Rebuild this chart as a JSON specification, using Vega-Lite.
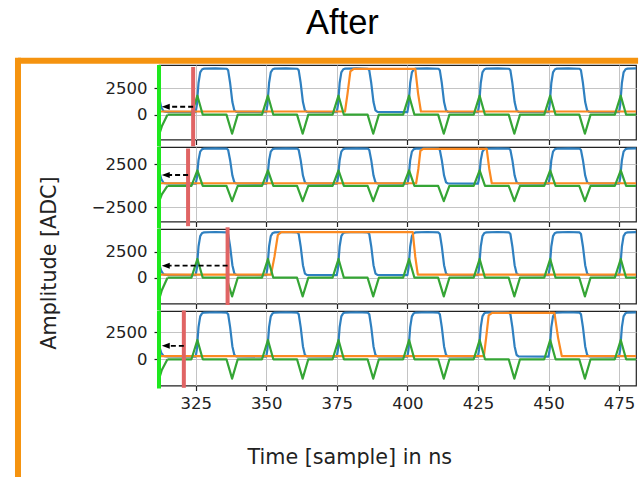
{
"$schema": "https://vega.github.io/schema/vega-lite/v6.json",
"background": "white",
"padding": {"left": 14, "top": 5, "right": 0, "bottom": 0},
"title": {"text": "After", "anchor": "start", "frame": "group", "dx": 147, "offset": 13, "font": "Liberation Sans", "fontSize": 34.5, "fontWeight": "normal", "color": "#000000"},
"datasets": {
"blue": [
{"x":314.5,"y":270},
{"x":325,"y":250},{"x":325.4,"y":900},{"x":326,"y":3000},{"x":326.6,"y":4000},{"x":327.3,"y":4300},{"x":328,"y":4360},{"x":332,"y":4390},{"x":336,"y":4350},{"x":336.5,"y":4200},{"x":337.2,"y":3000},{"x":338,"y":1200},{"x":338.7,"y":400},{"x":339.4,"y":270},
{"x":350,"y":250},{"x":350.4,"y":900},{"x":351,"y":3000},{"x":351.6,"y":4000},{"x":352.3,"y":4300},{"x":353,"y":4360},{"x":357,"y":4390},{"x":361,"y":4350},{"x":361.5,"y":4200},{"x":362.2,"y":3000},{"x":363,"y":1200},{"x":363.7,"y":400},{"x":364.4,"y":270},
{"x":375,"y":250},{"x":375.4,"y":900},{"x":376,"y":3000},{"x":376.6,"y":4000},{"x":377.3,"y":4300},{"x":378,"y":4360},{"x":382,"y":4390},{"x":386,"y":4350},{"x":386.5,"y":4200},{"x":387.2,"y":3000},{"x":388,"y":1200},{"x":388.7,"y":400},{"x":389.4,"y":270},
{"x":400,"y":250},{"x":400.4,"y":900},{"x":401,"y":3000},{"x":401.6,"y":4000},{"x":402.3,"y":4300},{"x":403,"y":4360},{"x":407,"y":4390},{"x":411,"y":4350},{"x":411.5,"y":4200},{"x":412.2,"y":3000},{"x":413,"y":1200},{"x":413.7,"y":400},{"x":414.4,"y":270},
{"x":425,"y":250},{"x":425.4,"y":900},{"x":426,"y":3000},{"x":426.6,"y":4000},{"x":427.3,"y":4300},{"x":428,"y":4360},{"x":432,"y":4390},{"x":436,"y":4350},{"x":436.5,"y":4200},{"x":437.2,"y":3000},{"x":438,"y":1200},{"x":438.7,"y":400},{"x":439.4,"y":270},
{"x":450,"y":250},{"x":450.4,"y":900},{"x":451,"y":3000},{"x":451.6,"y":4000},{"x":452.3,"y":4300},{"x":453,"y":4360},{"x":457,"y":4390},{"x":461,"y":4350},{"x":461.5,"y":4200},{"x":462.2,"y":3000},{"x":463,"y":1200},{"x":463.7,"y":400},{"x":464.4,"y":270},
{"x":475,"y":250},{"x":475.4,"y":900},{"x":476,"y":3000},{"x":476.6,"y":4000},{"x":477.3,"y":4300},{"x":478,"y":4360},{"x":481,"y":4380}
],
"green": [
{"x":315,"y":0},
{"x":323.5,"y":0},{"x":325.6,"y":1800},{"x":327.5,"y":0},{"x":335.9,"y":0},{"x":337.9,"y":-1800},{"x":339.9,"y":0},
{"x":348.5,"y":0},{"x":350.6,"y":1800},{"x":352.5,"y":0},{"x":360.9,"y":0},{"x":362.9,"y":-1800},{"x":364.9,"y":0},
{"x":373.5,"y":0},{"x":375.6,"y":1800},{"x":377.5,"y":0},{"x":385.9,"y":0},{"x":387.9,"y":-1800},{"x":389.9,"y":0},
{"x":398.5,"y":0},{"x":400.6,"y":1800},{"x":402.5,"y":0},{"x":410.9,"y":0},{"x":412.9,"y":-1800},{"x":414.9,"y":0},
{"x":423.5,"y":0},{"x":425.6,"y":1800},{"x":427.5,"y":0},{"x":435.9,"y":0},{"x":437.9,"y":-1800},{"x":439.9,"y":0},
{"x":448.5,"y":0},{"x":450.6,"y":1800},{"x":452.5,"y":0},{"x":460.9,"y":0},{"x":462.9,"y":-1800},{"x":464.9,"y":0},
{"x":473.5,"y":0},{"x":475.6,"y":1800},{"x":477.5,"y":0},{"x":481,"y":0}
],
"start": [
{"p":1,"s":"b","x":312,"y":1650},{"p":1,"s":"b","x":312.8,"y":700},{"p":1,"s":"b","x":313.6,"y":330},{"p":1,"s":"b","x":314.5,"y":270},
{"p":2,"s":"b","x":312,"y":1850},{"p":2,"s":"b","x":312.8,"y":800},{"p":2,"s":"b","x":313.6,"y":350},{"p":2,"s":"b","x":314.5,"y":270},
{"p":3,"s":"b","x":312,"y":1400},{"p":3,"s":"b","x":312.8,"y":650},{"p":3,"s":"b","x":313.6,"y":320},{"p":3,"s":"b","x":314.5,"y":270},
{"p":4,"s":"b","x":312,"y":1300},{"p":4,"s":"b","x":312.8,"y":600},{"p":4,"s":"b","x":313.6,"y":320},{"p":4,"s":"b","x":314.5,"y":270},
{"p":1,"s":"g","x":312,"y":-1950},{"p":1,"s":"g","x":313,"y":-1100},{"p":1,"s":"g","x":315,"y":0},
{"p":2,"s":"g","x":312,"y":-1870},{"p":2,"s":"g","x":313,"y":-1000},{"p":2,"s":"g","x":315,"y":0},
{"p":3,"s":"g","x":312,"y":-2140},{"p":3,"s":"g","x":313,"y":-1200},{"p":3,"s":"g","x":315,"y":0},
{"p":4,"s":"g","x":312,"y":-1850},{"p":4,"s":"g","x":313,"y":-1000},{"p":4,"s":"g","x":315,"y":0}
],
"orange": [
{"p":1,"x":312,"y":300},{"p":1,"x":377.9,"y":300},{"p":1,"x":378.8,"y":2000},{"p":1,"x":379.8,"y":4100},{"p":1,"x":381,"y":4330},{"p":1,"x":402.8,"y":4330},{"p":1,"x":403.8,"y":2000},{"p":1,"x":404.8,"y":300},{"p":1,"x":481,"y":300},
{"p":2,"x":312,"y":300},{"p":2,"x":403.1,"y":300},{"p":2,"x":403.9,"y":2000},{"p":2,"x":404.6,"y":4100},{"p":2,"x":405.6,"y":4330},{"p":2,"x":428.1,"y":4330},{"p":2,"x":429,"y":2000},{"p":2,"x":429.9,"y":300},{"p":2,"x":481,"y":300},
{"p":3,"x":312,"y":300},{"p":3,"x":351.7,"y":300},{"p":3,"x":352.9,"y":2000},{"p":3,"x":354.1,"y":4100},{"p":3,"x":355.3,"y":4380},{"p":3,"x":401.9,"y":4380},{"p":3,"x":402.8,"y":2000},{"p":3,"x":403.7,"y":300},{"p":3,"x":481,"y":300},
{"p":4,"x":312,"y":300},{"p":4,"x":427.1,"y":300},{"p":4,"x":427.9,"y":2000},{"p":4,"x":428.8,"y":4100},{"p":4,"x":430,"y":4330},{"p":4,"x":452.1,"y":4330},{"p":4,"x":453.4,"y":2000},{"p":4,"x":454.7,"y":300},{"p":4,"x":481,"y":300}
],
"ev": [
{"p":1,"red":324.1,"rtop":4518,"rbot":-2993,"ay":750,"ahx":314.4,"gx":312,"gtop":4705,"gbot":-3013},
{"p":2,"red":322.3,"rtop":4367,"rbot":-4730,"ay":1265,"ahx":314.4,"gx":312,"gtop":4545,"gbot":-5000},
{"p":3,"red":336.3,"rtop":4845,"rbot":-2625,"ay":1154,"ahx":314.4,"gx":312,"gtop":4680,"gbot":-3153},
{"p":4,"red":320.8,"rtop":4553,"rbot":-2659,"ay":1260,"ahx":314.4,"gx":312,"gtop":4505,"gbot":-2725}
],
"frame": [
{"x":262.04,"x2":262.04,"y":28126,"y2":-11401},
{"x":262.04,"x2":481.74,"y":27846,"y2":27846}
]
},
"spacing": 7,
"bounds": "flush",
"vconcat": [
{"width":477,"height":74.5,"layer":[
{"data":{"name":"blue"},"mark":{"type":"line","color":"#2f80c0","strokeWidth":2.2,"strokeJoin":"round"},
 "encoding":{"x":{"field":"x","type":"quantitative","scale":{"domain":[312,481],"nice":false,"zero":false},"axis":{"values":[325,350,375,400,425,450,475],"labels":false,"title":null,"grid":true}},
 "y":{"field":"y","type":"quantitative","scale":{"domain":[-2350,4705],"nice":false,"zero":false},"axis":{"values":[0,2500],"format":"d","title":null,"grid":true,"labelPadding":7}}}},
{"data":{"name":"start"},"transform":[{"filter":"datum.p==1 && datum.s=='b'"}],"mark":{"type":"line","color":"#2f80c0","strokeWidth":2.2,"strokeJoin":"round"},"encoding":{"x":{"field":"x","type":"quantitative"},"y":{"field":"y","type":"quantitative"}}},
{"data":{"name":"orange"},"transform":[{"filter":"datum.p==1"}],"mark":{"type":"line","color":"#fb8a22","strokeWidth":2.2,"strokeJoin":"round"},"encoding":{"x":{"field":"x","type":"quantitative"},"y":{"field":"y","type":"quantitative"}}},
{"data":{"name":"green"},"mark":{"type":"line","color":"#35a535","strokeWidth":2.2,"strokeJoin":"round"},"encoding":{"x":{"field":"x","type":"quantitative"},"y":{"field":"y","type":"quantitative"}}},
{"data":{"name":"start"},"transform":[{"filter":"datum.p==1 && datum.s=='g'"}],"mark":{"type":"line","color":"#35a535","strokeWidth":2.2,"strokeJoin":"round"},"encoding":{"x":{"field":"x","type":"quantitative"},"y":{"field":"y","type":"quantitative"}}},
{"data":{"name":"ev"},"transform":[{"filter":"datum.p==1"}],"mark":{"type":"rule","color":"#e06464","strokeWidth":4},"encoding":{"x":{"field":"red","type":"quantitative"},"y":{"field":"rtop","type":"quantitative"},"y2":{"field":"rbot"}}},
{"data":{"name":"ev"},"transform":[{"filter":"datum.p==1"}],"mark":{"type":"rule","color":"#1ee81e","strokeWidth":4},"encoding":{"x":{"field":"gx","type":"quantitative"},"y":{"field":"gtop","type":"quantitative"},"y2":{"field":"gbot"}}},
{"data":{"name":"ev"},"transform":[{"filter":"datum.p==1"}],"mark":{"type":"rule","color":"#000000","strokeWidth":1.8,"strokeDash":[5,3]},"encoding":{"x":{"field":"red","type":"quantitative"},"x2":{"field":"ahx"},"y":{"field":"ay","type":"quantitative"}}},
{"data":{"name":"ev"},"transform":[{"filter":"datum.p==1"}],"mark":{"type":"point","shape":"M -1 0 L 1 -0.75 L 1 0.75 Z","size":64,"filled":true,"color":"#000000","opacity":1},"encoding":{"x":{"field":"ahx","type":"quantitative"},"y":{"field":"ay","type":"quantitative"}}}
]},
{"width":477,"height":74.5,"layer":[
{"data":{"name":"blue"},"mark":{"type":"line","color":"#2f80c0","strokeWidth":2.2,"strokeJoin":"round"},
 "encoding":{"x":{"field":"x","type":"quantitative","scale":{"domain":[312,481],"nice":false,"zero":false},"axis":{"values":[325,350,375,400,425,450,475],"labels":false,"title":null,"grid":true}},
 "y":{"field":"y","type":"quantitative","scale":{"domain":[-4180,4545],"nice":false,"zero":false},"axis":{"values":[-2500,0,2500],"format":"d","title":null,"grid":true,"labelPadding":7}}}},
{"data":{"name":"start"},"transform":[{"filter":"datum.p==2 && datum.s=='b'"}],"mark":{"type":"line","color":"#2f80c0","strokeWidth":2.2,"strokeJoin":"round"},"encoding":{"x":{"field":"x","type":"quantitative"},"y":{"field":"y","type":"quantitative"}}},
{"data":{"name":"orange"},"transform":[{"filter":"datum.p==2"}],"mark":{"type":"line","color":"#fb8a22","strokeWidth":2.2,"strokeJoin":"round"},"encoding":{"x":{"field":"x","type":"quantitative"},"y":{"field":"y","type":"quantitative"}}},
{"data":{"name":"green"},"mark":{"type":"line","color":"#35a535","strokeWidth":2.2,"strokeJoin":"round"},"encoding":{"x":{"field":"x","type":"quantitative"},"y":{"field":"y","type":"quantitative"}}},
{"data":{"name":"start"},"transform":[{"filter":"datum.p==2 && datum.s=='g'"}],"mark":{"type":"line","color":"#35a535","strokeWidth":2.2,"strokeJoin":"round"},"encoding":{"x":{"field":"x","type":"quantitative"},"y":{"field":"y","type":"quantitative"}}},
{"data":{"name":"ev"},"transform":[{"filter":"datum.p==2"}],"mark":{"type":"rule","color":"#e06464","strokeWidth":4},"encoding":{"x":{"field":"red","type":"quantitative"},"y":{"field":"rtop","type":"quantitative"},"y2":{"field":"rbot"}}},
{"data":{"name":"ev"},"transform":[{"filter":"datum.p==2"}],"mark":{"type":"rule","color":"#1ee81e","strokeWidth":4},"encoding":{"x":{"field":"gx","type":"quantitative"},"y":{"field":"gtop","type":"quantitative"},"y2":{"field":"gbot"}}},
{"data":{"name":"ev"},"transform":[{"filter":"datum.p==2"}],"mark":{"type":"rule","color":"#000000","strokeWidth":1.8,"strokeDash":[5,3]},"encoding":{"x":{"field":"red","type":"quantitative"},"x2":{"field":"ahx"},"y":{"field":"ay","type":"quantitative"}}},
{"data":{"name":"ev"},"transform":[{"filter":"datum.p==2"}],"mark":{"type":"point","shape":"M -1 0 L 1 -0.75 L 1 0.75 Z","size":64,"filled":true,"color":"#000000","opacity":1},"encoding":{"x":{"field":"ahx","type":"quantitative"},"y":{"field":"ay","type":"quantitative"}}}
]},
{"width":477,"height":74.5,"layer":[
{"data":{"name":"blue"},"mark":{"type":"line","color":"#2f80c0","strokeWidth":2.2,"strokeJoin":"round"},
 "encoding":{"x":{"field":"x","type":"quantitative","scale":{"domain":[312,481],"nice":false,"zero":false},"axis":{"values":[325,350,375,400,425,450,475],"labels":false,"title":null,"grid":true}},
 "y":{"field":"y","type":"quantitative","scale":{"domain":[-2480,4680],"nice":false,"zero":false},"axis":{"values":[0,2500],"format":"d","grid":true,"labelPadding":7,"title":"Amplitude [ADC]","titleX":-110,"titleY":33.5,"titleAngle":270,"titleAlign":"center","titleBaseline":"middle"}}}},
{"data":{"name":"start"},"transform":[{"filter":"datum.p==3 && datum.s=='b'"}],"mark":{"type":"line","color":"#2f80c0","strokeWidth":2.2,"strokeJoin":"round"},"encoding":{"x":{"field":"x","type":"quantitative"},"y":{"field":"y","type":"quantitative"}}},
{"data":{"name":"orange"},"transform":[{"filter":"datum.p==3"}],"mark":{"type":"line","color":"#fb8a22","strokeWidth":2.2,"strokeJoin":"round"},"encoding":{"x":{"field":"x","type":"quantitative"},"y":{"field":"y","type":"quantitative"}}},
{"data":{"name":"green"},"mark":{"type":"line","color":"#35a535","strokeWidth":2.2,"strokeJoin":"round"},"encoding":{"x":{"field":"x","type":"quantitative"},"y":{"field":"y","type":"quantitative"}}},
{"data":{"name":"start"},"transform":[{"filter":"datum.p==3 && datum.s=='g'"}],"mark":{"type":"line","color":"#35a535","strokeWidth":2.2,"strokeJoin":"round"},"encoding":{"x":{"field":"x","type":"quantitative"},"y":{"field":"y","type":"quantitative"}}},
{"data":{"name":"ev"},"transform":[{"filter":"datum.p==3"}],"mark":{"type":"rule","color":"#e06464","strokeWidth":4},"encoding":{"x":{"field":"red","type":"quantitative"},"y":{"field":"rtop","type":"quantitative"},"y2":{"field":"rbot"}}},
{"data":{"name":"ev"},"transform":[{"filter":"datum.p==3"}],"mark":{"type":"rule","color":"#1ee81e","strokeWidth":4},"encoding":{"x":{"field":"gx","type":"quantitative"},"y":{"field":"gtop","type":"quantitative"},"y2":{"field":"gbot"}}},
{"data":{"name":"ev"},"transform":[{"filter":"datum.p==3"}],"mark":{"type":"rule","color":"#000000","strokeWidth":1.8,"strokeDash":[5,3]},"encoding":{"x":{"field":"red","type":"quantitative"},"x2":{"field":"ahx"},"y":{"field":"ay","type":"quantitative"}}},
{"data":{"name":"ev"},"transform":[{"filter":"datum.p==3"}],"mark":{"type":"point","shape":"M -1 0 L 1 -0.75 L 1 0.75 Z","size":64,"filled":true,"color":"#000000","opacity":1},"encoding":{"x":{"field":"ahx","type":"quantitative"},"y":{"field":"ay","type":"quantitative"}}}
]},
{"width":477,"height":74.5,"layer":[
{"data":{"name":"blue"},"mark":{"type":"line","color":"#2f80c0","strokeWidth":2.2,"strokeJoin":"round"},
 "encoding":{"x":{"field":"x","type":"quantitative","scale":{"domain":[312,481],"nice":false,"zero":false},"axis":{"values":[325,350,375,400,425,450,475],"format":"d","grid":true,"title":"Time [sample] in ns","titleX":190.3,"titleY":78.3,"titleAlign":"center","titleBaseline":"alphabetic"}},
 "y":{"field":"y","type":"quantitative","scale":{"domain":[-2445,4505],"nice":false,"zero":false},"axis":{"values":[0,2500],"format":"d","title":null,"grid":true,"labelPadding":7}}}},
{"data":{"name":"start"},"transform":[{"filter":"datum.p==4 && datum.s=='b'"}],"mark":{"type":"line","color":"#2f80c0","strokeWidth":2.2,"strokeJoin":"round"},"encoding":{"x":{"field":"x","type":"quantitative"},"y":{"field":"y","type":"quantitative"}}},
{"data":{"name":"orange"},"transform":[{"filter":"datum.p==4"}],"mark":{"type":"line","color":"#fb8a22","strokeWidth":2.2,"strokeJoin":"round"},"encoding":{"x":{"field":"x","type":"quantitative"},"y":{"field":"y","type":"quantitative"}}},
{"data":{"name":"green"},"mark":{"type":"line","color":"#35a535","strokeWidth":2.2,"strokeJoin":"round"},"encoding":{"x":{"field":"x","type":"quantitative"},"y":{"field":"y","type":"quantitative"}}},
{"data":{"name":"start"},"transform":[{"filter":"datum.p==4 && datum.s=='g'"}],"mark":{"type":"line","color":"#35a535","strokeWidth":2.2,"strokeJoin":"round"},"encoding":{"x":{"field":"x","type":"quantitative"},"y":{"field":"y","type":"quantitative"}}},
{"data":{"name":"ev"},"transform":[{"filter":"datum.p==4"}],"mark":{"type":"rule","color":"#e06464","strokeWidth":4},"encoding":{"x":{"field":"red","type":"quantitative"},"y":{"field":"rtop","type":"quantitative"},"y2":{"field":"rbot"}}},
{"data":{"name":"ev"},"transform":[{"filter":"datum.p==4"}],"mark":{"type":"rule","color":"#1ee81e","strokeWidth":4},"encoding":{"x":{"field":"gx","type":"quantitative"},"y":{"field":"gtop","type":"quantitative"},"y2":{"field":"gbot"}}},
{"data":{"name":"ev"},"transform":[{"filter":"datum.p==4"}],"mark":{"type":"rule","color":"#000000","strokeWidth":1.8,"strokeDash":[5,3]},"encoding":{"x":{"field":"red","type":"quantitative"},"x2":{"field":"ahx"},"y":{"field":"ay","type":"quantitative"}}},
{"data":{"name":"ev"},"transform":[{"filter":"datum.p==4"}],"mark":{"type":"point","shape":"M -1 0 L 1 -0.75 L 1 0.75 Z","size":64,"filled":true,"color":"#000000","opacity":1},"encoding":{"x":{"field":"ahx","type":"quantitative"},"y":{"field":"ay","type":"quantitative"}}},
{"data":{"name":"frame"},"mark":{"type":"rule","color":"#f5930f","strokeWidth":6},"encoding":{"x":{"field":"x","type":"quantitative"},"x2":{"field":"x2"},"y":{"field":"y","type":"quantitative"},"y2":{"field":"y2"}}}
]}
],
"config": {
"view": {"stroke": "#222222", "strokeWidth": 1.2},
"axis": {"labelFont": "DejaVu Sans", "labelFontSize": 16.5, "labelColor": "#222222", "titleFont": "DejaVu Sans", "titleFontSize": 20.7, "titleFontWeight": "normal", "titleColor": "#222222", "gridColor": "#c4c4c4", "gridWidth": 1, "domain": false, "tickColor": "#222222", "tickSize": 5, "tickWidth": 1.2, "labelPadding": 5}
}
}
